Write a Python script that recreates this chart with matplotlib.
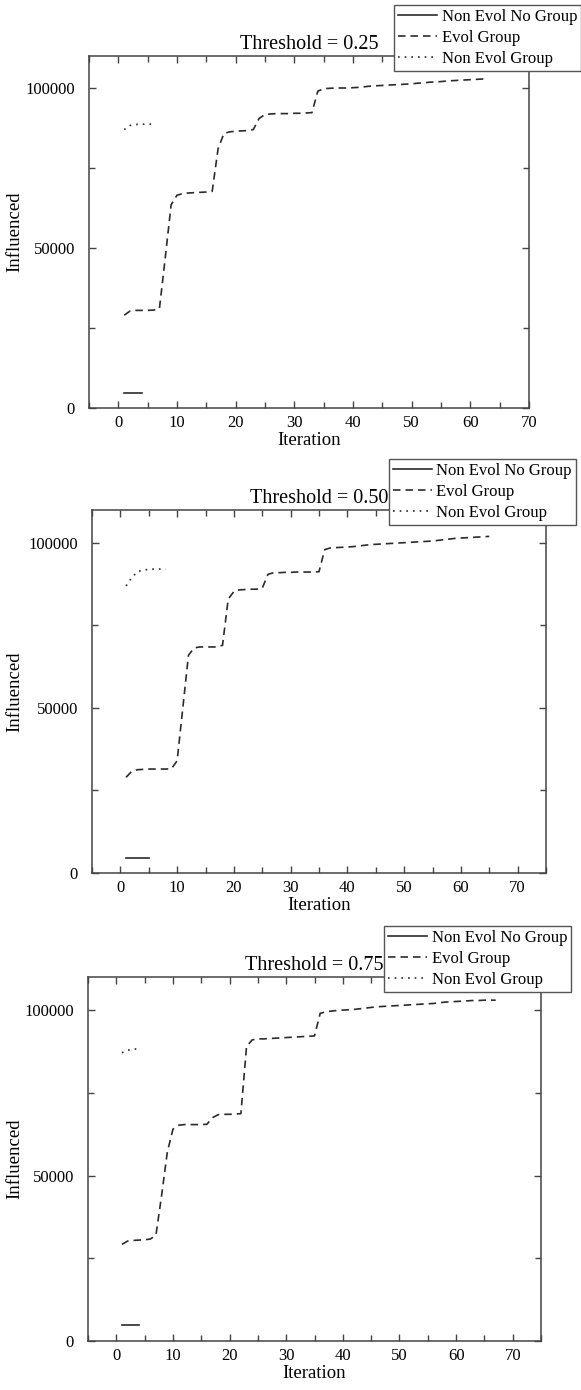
import matplotlib
matplotlib.use('Agg')
import matplotlib.pyplot as plt
from matplotlib.ticker import MultipleLocator

plt.rcParams['font.family'] = ['Liberation Serif', 'DejaVu Serif']

# values (iteration starts at 1)
thresholds = ['0.25', '0.50', '0.75']

evol_025 = [29000, 30300, 30500, 30500, 30500, 30600, 31000, 47000, 63500, 66500,
            67000, 67200, 67300, 67400, 67500, 67700, 81000, 85800, 86300, 86500,
            86600, 86700, 87000, 90500, 91700, 91900, 92000, 92000, 92000, 92100,
            92100, 92200, 92300, 99000, 99800, 99900, 100000, 100000, 100000, 100100,
            100200, 100400, 100600, 100700, 100800, 100900, 101000, 101100, 101200, 101300,
            101500, 101600, 101800, 101900, 102000, 102200, 102300, 102400, 102500, 102600,
            102700, 102800, 102800]
evol_050 = [29000, 30800, 31300, 31400, 31500, 31500, 31500, 31500, 31600, 34000,
            50000, 66000, 68200, 68500, 68500, 68500, 68500, 69000, 83000, 85300,
            85800, 85900, 86000, 86000, 86300, 90500, 91000, 91000, 91100, 91100,
            91200, 91200, 91200, 91200, 91300, 98000, 98500, 98600, 98700, 98800,
            98900, 99100, 99300, 99500, 99600, 99700, 99800, 99900, 100000, 100100,
            100200, 100300, 100400, 100500, 100600, 100800, 101000, 101200, 101400, 101500,
            101600, 101700, 101800, 101900, 102000]
evol_075 = [29200, 30200, 30400, 30500, 30600, 30800, 32000, 44000, 57000, 64000,
            65200, 65400, 65400, 65400, 65400, 65500, 67500, 68400, 68500, 68500,
            68600, 68700, 89000, 91000, 91300, 91300, 91400, 91500, 91600, 91700,
            91800, 91900, 92000, 92100, 92200, 99000, 99500, 99700, 99900, 100000,
            100100, 100200, 100400, 100600, 100800, 101000, 101100, 101200, 101300, 101400,
            101500, 101600, 101700, 101800, 101900, 102000, 102200, 102400, 102500, 102600,
            102700, 102800, 102900, 102900, 103000, 103000, 103000]

nongroup_025 = [87000, 88300, 88600, 88700, 88700, 88700]
nongroup_050 = [87000, 89500, 91300, 91800, 92000, 92100, 92100, 92100]
nongroup_075 = [87100, 87900, 88200, 88300]

nogroup_025 = [4800, 4800, 4800, 4800]
nogroup_050 = [4600, 4600, 4600, 4600, 4600]
nogroup_075 = [4800, 4800, 4800, 4800]

x_max = [70, 75, 75]

evol = [evol_025, evol_050, evol_075]
nongroup = [nongroup_025, nongroup_050, nongroup_075]
nogroup = [nogroup_025, nogroup_050, nogroup_075]

W, H = 581, 1390
fig = plt.figure(figsize=(W / 100, H / 100), dpi=100)

# axes boxes in pixels: left, right, top, bottom
boxes = [(89, 529, 56, 408), (92, 546, 510, 873), (88, 541, 977, 1341)]
legend_at = [(394, 5), (389, 459), (384, 926)]

col = '#2b2b2b'
for i in range(3):
    l, r, t, b = boxes[i]
    ax = fig.add_axes([l / W, 1 - b / H, (r - l) / W, (b - t) / H])

    ys = nogroup[i]
    ax.plot(range(1, len(ys) + 1), ys, color=col, lw=1.2, label='Non Evol No Group')
    ys = evol[i]
    ax.plot(range(1, len(ys) + 1), ys, color=col, lw=1.2, dashes=(4.5, 3),
            label='Evol Group')
    ys = nongroup[i]
    ax.plot(range(1, len(ys) + 1), ys, color=col, lw=1.2, dashes=(1, 3),
            label='Non Evol Group')

    ax.set_xlim(-5, x_max[i])
    ax.set_ylim(0, 110000)
    ax.xaxis.set_major_locator(MultipleLocator(10))
    ax.xaxis.set_minor_locator(MultipleLocator(5))
    ax.yaxis.set_major_locator(MultipleLocator(50000))
    ax.yaxis.set_minor_locator(MultipleLocator(25000))
    ax.set_xticks([v for v in range(0, 71, 10)])
    ax.tick_params(which='both', direction='in', top=True, right=True,
                   color='#444444', labelsize=12, width=1.0)
    ax.tick_params(axis='x', which='major', length=5, pad=5)
    ax.tick_params(axis='y', which='major', length=5, pad=10)
    ax.tick_params(which='minor', length=4)
    for s in ax.spines.values():
        s.set_color('#444444')
        s.set_linewidth(1.1)

    ax.set_title('Threshold = ' + thresholds[i], fontsize=14.5, pad=5)
    ax.set_xlabel('Iteration', fontsize=13.5, labelpad=1)
    ax.set_ylabel('Influenced', fontsize=13.5)
    ax.yaxis.set_label_coords((23 - l) / (r - l), 0.5)

    lx, ly = legend_at[i]
    leg = ax.legend(loc='upper left', bbox_to_anchor=(lx / W, 1 - ly / H),
                    bbox_transform=fig.transFigure, borderaxespad=0,
                    fontsize=12, frameon=True, fancybox=False, framealpha=1,
                    handlelength=2.3, handletextpad=0.3, labelspacing=0.3,
                    borderpad=0.25)
    leg.get_frame().set_edgecolor('#555555')
    leg.get_frame().set_linewidth(1.0)

fig.savefig('out.png', dpi=100)
